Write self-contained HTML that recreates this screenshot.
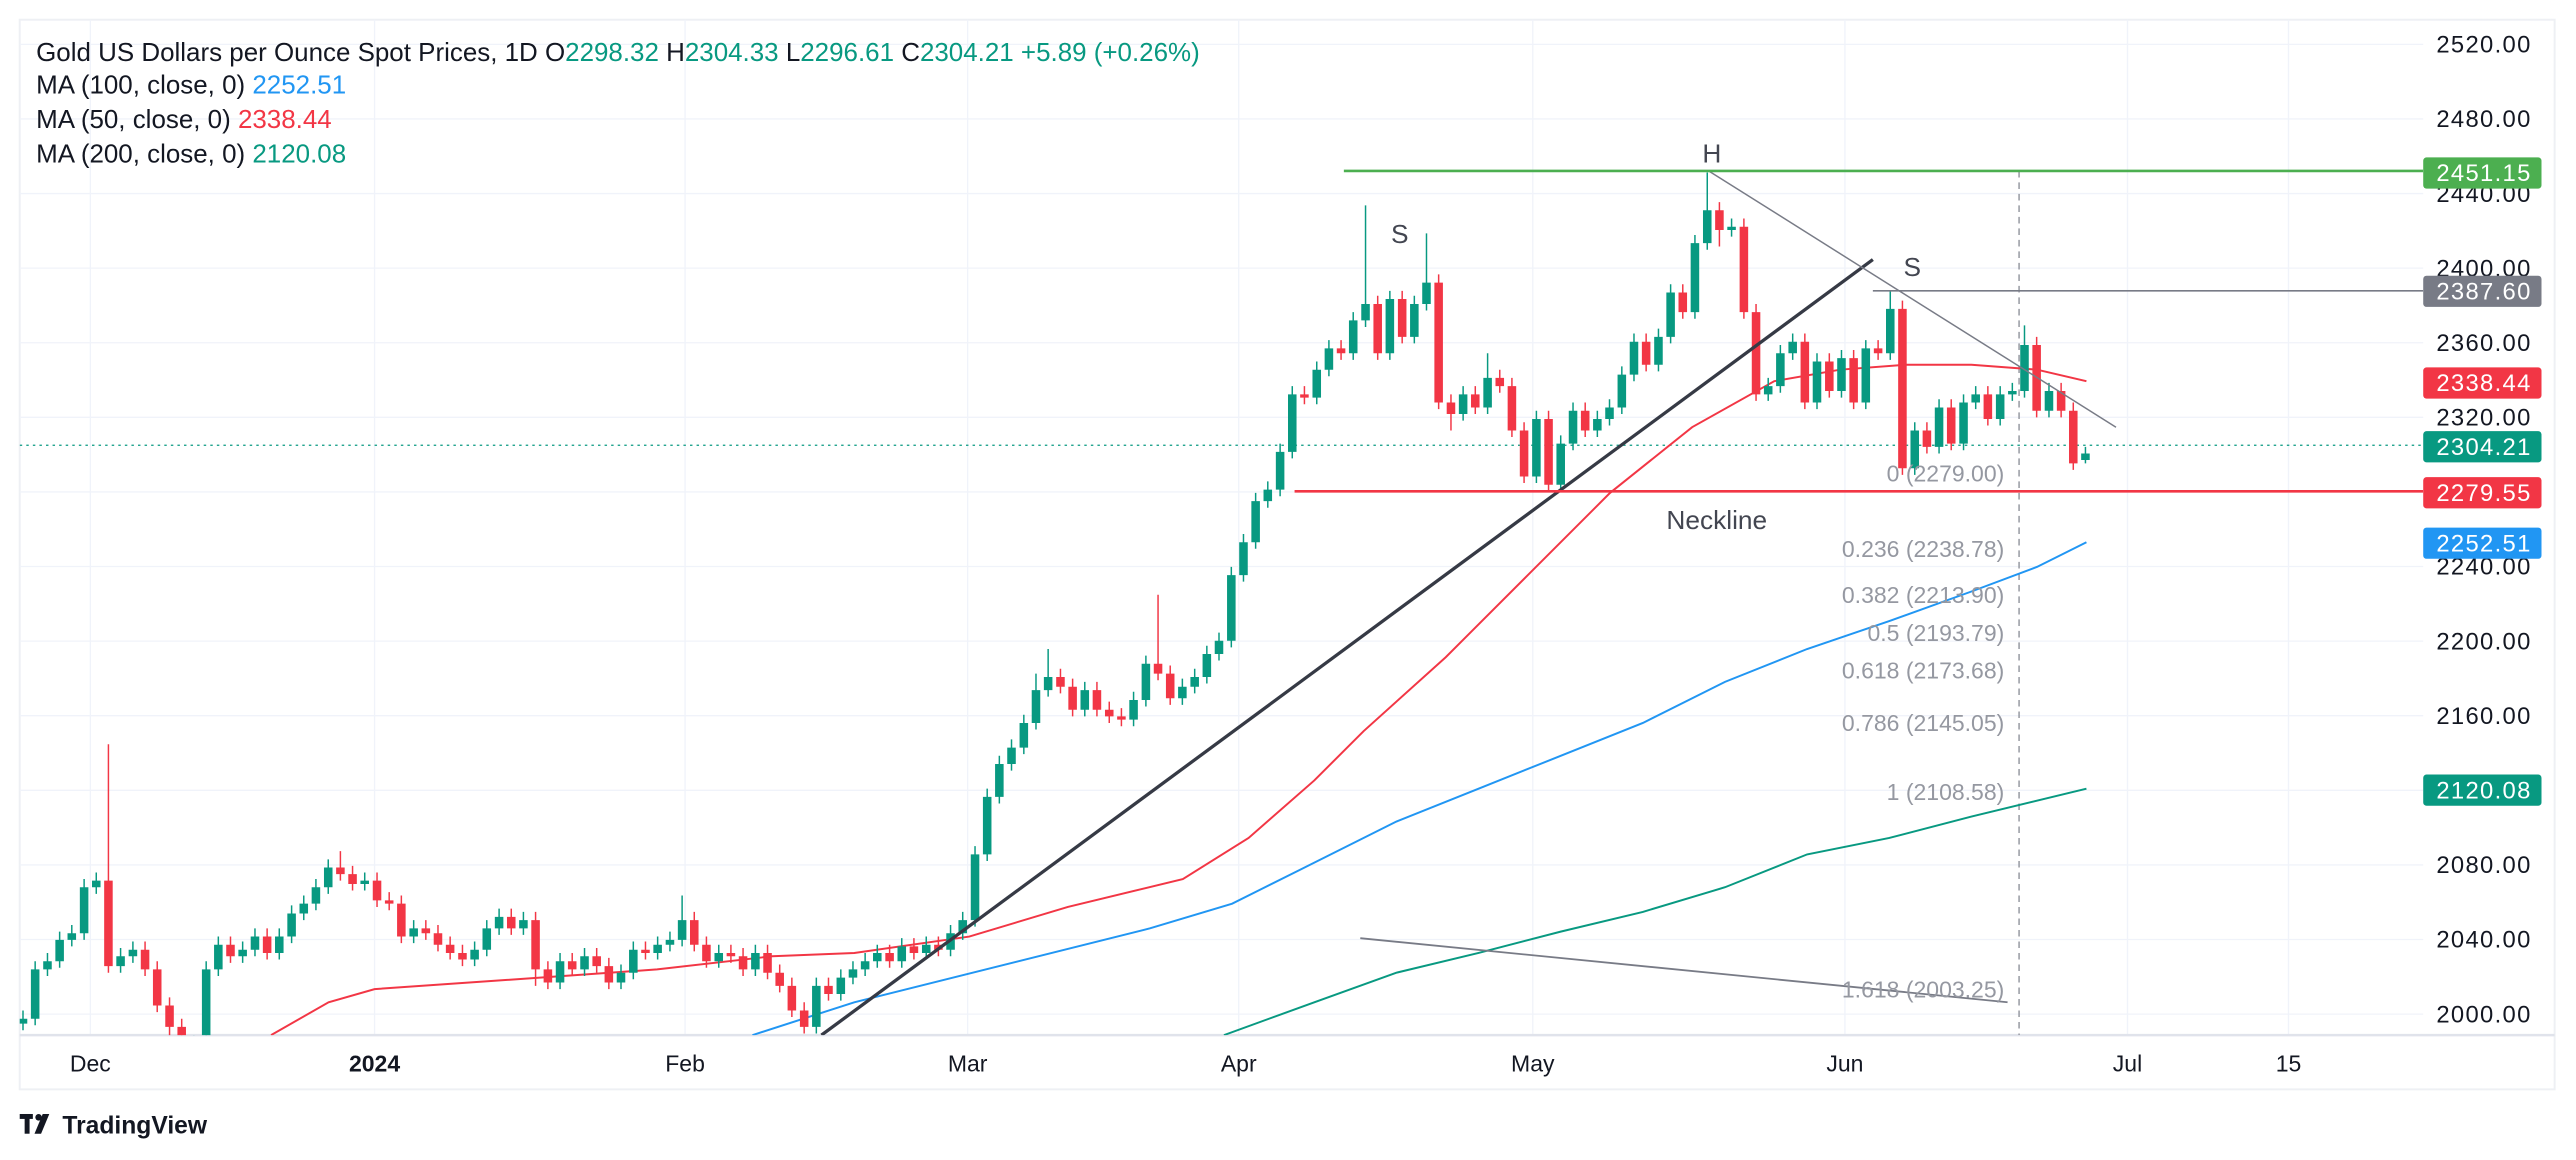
<!DOCTYPE html>
<html><head><meta charset="utf-8"><style>
html,body{margin:0;padding:0;background:#fff;}
svg{display:block;font-family:"Liberation Sans",sans-serif;}
</style></head><body>
<svg width="2576" height="1160" viewBox="0 0 1568 706" preserveAspectRatio="none" xmlns="http://www.w3.org/2000/svg">
<rect x="0" y="0" width="1568" height="706" fill="#fff"/>
<rect x="12" y="12" width="1543" height="651" fill="none" stroke="#eef0f4" stroke-width="1.2"/>
<g stroke="#f0f3fa" stroke-width="0.8">
<line x1="12" x2="1475" y1="27" y2="27"/><line x1="12" x2="1475" y1="72.4" y2="72.4"/><line x1="12" x2="1475" y1="117.8" y2="117.8"/><line x1="12" x2="1475" y1="163.2" y2="163.2"/><line x1="12" x2="1475" y1="208.6" y2="208.6"/><line x1="12" x2="1475" y1="254" y2="254"/><line x1="12" x2="1475" y1="299.4" y2="299.4"/><line x1="12" x2="1475" y1="344.8" y2="344.8"/><line x1="12" x2="1475" y1="390.2" y2="390.2"/><line x1="12" x2="1475" y1="435.6" y2="435.6"/><line x1="12" x2="1475" y1="481" y2="481"/><line x1="12" x2="1475" y1="526.4" y2="526.4"/><line x1="12" x2="1475" y1="571.8" y2="571.8"/><line x1="12" x2="1475" y1="617.2" y2="617.2"/>
<line x1="55" x2="55" y1="12" y2="630"/><line x1="228" x2="228" y1="12" y2="630"/><line x1="417" x2="417" y1="12" y2="630"/><line x1="589" x2="589" y1="12" y2="630"/><line x1="754" x2="754" y1="12" y2="630"/><line x1="933" x2="933" y1="12" y2="630"/><line x1="1123" x2="1123" y1="12" y2="630"/><line x1="1295" x2="1295" y1="12" y2="630"/><line x1="1393" x2="1393" y1="12" y2="630"/>
</g>
<line x1="12" y1="630" x2="1555" y2="630" stroke="#e0e3eb" stroke-width="1.5"/>
<defs><clipPath id="c"><rect x="12" y="12" width="1463" height="618"/></clipPath></defs>
<g clip-path="url(#c)">
  <line x1="12" y1="271" x2="1475" y2="271" stroke="#089981" stroke-width="0.8" stroke-dasharray="1.5,2.5"/>
  <line x1="1229" y1="104" x2="1229" y2="630" stroke="#9598a1" stroke-width="0.9" stroke-dasharray="4,3"/>
  <polyline fill="none" stroke="#089981" stroke-width="1.2" points="745,630 800,610 850,592 900,580 950,567 1000,555 1050,540 1100,520 1150,510 1200,497 1270,480"/>
  <polyline fill="none" stroke="#2196f3" stroke-width="1.2" points="458,630 520,610 600,590 700,565 750,550 790,530 850,500 900,480 950,460 1000,440 1050,415 1100,395 1150,378 1200,360 1240,345 1270,330"/>
  <polyline fill="none" stroke="#f23645" stroke-width="1.2" points="165,630 200,610 228,602 300,597 400,590 470,582 520,580 590,570 650,552 720,535 760,510 800,475 830,445 880,400 930,350 980,300 1030,260 1080,232 1120,225 1160,222 1200,222 1240,225 1270,232"/>
  <path fill="none" stroke="#089981" stroke-width="0.9" d="M14 615V627M21.4 585V624M28.9 580V594M36.3 567V589M43.7 563V576M51.2 535V572M58.6 531V544M73.4 577V592M80.9 573V586M118 630V644M125.5 585V639M132.9 570V594M147.7 573V586M155.2 565V582M170 565V584M177.5 551V574M184.9 545V560M192.3 535V554M199.8 523V544M222 531V542M251.8 560V574M288.9 573V588M296.3 560V582M303.8 553V569M318.6 555V569M340.9 580V602M355.8 577V594M378 587V602M385.5 573V596M400.3 570V584M407.8 567V579M415.2 545V576M437.5 575V589M459.8 575V594M496.9 595V629M511.8 590V609M519.2 585V599M526.6 580V594M534 575V589M548.9 571V589M563.8 570V584M578.6 563V582M586 555V572M593.5 515V564M600.9 480V524M608.3 460V489M615.7 450V469M623.2 435V459M630.6 410V444M638 395V424M660.3 415V436M690 421V442M697.5 399V430M719.7 413V429M727.2 407V422M734.6 393V416M742 385V402M749.5 345V394M756.9 325V354M764.3 300V334M771.7 293V309M779.2 270V302M786.6 235V279M801.5 220V246M808.9 207V229M823.7 190V219M831.2 125V199M846 177V219M860.9 180V209M868.3 142V189M890.6 235V256M905.5 215V252M935.2 250V294M950 265V299M957.5 245V274M972.3 250V266M979.7 243V259M987.2 223V252M994.6 203V232M1009.5 200V226M1016.9 173V209M1031.7 143V194M1039.2 105V152M1054 133V144M1076.3 230V244M1083.7 210V239M1091.2 203V219M1106 215V249M1120.9 213V242M1135.7 207V249M1150.6 177V219M1165.5 257V289M1180.3 243V276M1195.2 240V274M1202.6 235V249M1217.5 235V259M1224.9 233V244M1232.3 198V242M1247.2 233V254M1269.4 272V282"/>
  <path fill="none" stroke="#089981" stroke-width="5.2" d="M14 623V620M21.4 620V590M28.9 590V585M36.3 585V572M43.7 572V568M51.2 568V540M58.6 540V536M73.4 588V582M80.9 582V578M118 640V635M125.5 635V590M132.9 590V575M147.7 582V578M155.2 578V570M170 580V570M177.5 570V556M184.9 556V550M192.3 550V540M199.8 540V528M222 538V536M251.8 570V565M288.9 584V578M296.3 578V565M303.8 565V558M318.6 565V560M340.9 598V585M355.8 590V582M378 598V592M385.5 592V578M400.3 580V575M407.8 575V572M415.2 572V560M437.5 585V580M459.8 590V580M496.9 625V600M511.8 605V595M519.2 595V590M526.6 590V585M534 585V580M548.9 585V576M563.8 580V575M578.6 578V568M586 568V560M593.5 560V520M600.9 520V485M608.3 485V465M615.7 465V455M623.2 455V440M630.6 440V420M638 420V412M660.3 432V420M690 438V426M697.5 426V404M719.7 425V418M727.2 418V412M734.6 412V398M742 398V390M749.5 390V350M756.9 350V330M764.3 330V305M771.7 305V298M779.2 298V275M786.6 275V240M801.5 242V225M808.9 225V212M823.7 215V195M831.2 195V185M846 215V182M860.9 205V185M868.3 185V172M890.6 252V240M905.5 248V230M935.2 290V255M950 295V270M957.5 270V250M972.3 262V255M979.7 255V248M987.2 248V228M994.6 228V208M1009.5 222V205M1016.9 205V178M1031.7 190V148M1039.2 148V128M1054 140V138M1076.3 240V235M1083.7 235V215M1091.2 215V208M1106 245V220M1120.9 238V218M1135.7 245V212M1150.6 215V188M1165.5 285V262M1180.3 272V248M1195.2 270V245M1202.6 245V240M1217.5 255V240M1224.9 240V238M1232.3 238V210M1247.2 250V238M1269.4 280V276"/>
  <path fill="none" stroke="#f23645" stroke-width="0.9" d="M66 453V592M88.3 573V594M95.7 585V616M103.2 607V640M110.6 620V644M140.3 570V586M162.6 565V584M207.2 518V536M214.6 527V542M229.5 531V552M236.9 543V554M244.3 545V574M259.2 560V572M266.6 563V579M274 570V584M281.5 575V588M311.2 553V569M326 555V600M333.5 585V602M348.3 580V594M363.2 577V592M370.6 583V602M392.9 573V584M422.6 555V579M430 570V589M444.9 575V586M452.3 577V594M467.2 575V596M474.6 587V604M482 595V619M489.5 610V629M504.3 595V609M541.5 575V589M556.3 571V584M571.2 570V582M645.5 407V422M652.9 413V436M667.7 415V436M675.2 427V440M682.6 431V442M704.9 362V414M712.3 405V429M794 235V246M816.3 207V219M838.6 180V219M853.5 177V209M875.7 167V249M883.2 240V262M898 235V252M912.9 225V239M920.3 230V266M927.7 257V294M942.6 250V299M964.9 245V266M1002 203V226M1024.3 173V194M1046.6 123V150M1061.5 133V194M1068.9 185V244M1098.6 203V249M1113.5 215V242M1128.3 213V249M1143.2 207V219M1158 183V289M1172.9 257V276M1187.7 243V274M1210 235V259M1239.7 205V254M1254.6 233V254M1262 245V286"/>
  <path fill="none" stroke="#f23645" stroke-width="5.2" d="M66 536V588M88.3 578V590M95.7 590V612M103.2 612V625M110.6 625V640M140.3 575V582M162.6 570V580M207.2 528V532M214.6 532V538M229.5 536V548M236.9 548V550M244.3 550V570M259.2 565V568M266.6 568V575M274 575V580M281.5 580V584M311.2 558V565M326 560V590M333.5 590V598M348.3 585V590M363.2 582V588M370.6 588V598M392.9 578V580M422.6 560V575M430 575V585M444.9 580V582M452.3 582V590M467.2 580V592M474.6 592V600M482 600V615M489.5 615V625M504.3 600V605M541.5 580V585M556.3 576V580M571.2 575V578M645.5 412V418M652.9 418V432M667.7 420V432M675.2 432V436M682.6 436V438M704.9 404V410M712.3 410V425M794 240V242M816.3 212V215M838.6 185V215M853.5 182V205M875.7 172V245M883.2 245V252M898 240V248M912.9 230V235M920.3 235V262M927.7 262V290M942.6 255V295M964.9 250V262M1002 208V222M1024.3 178V190M1046.6 128V140M1061.5 138V190M1068.9 190V240M1098.6 208V245M1113.5 220V238M1128.3 218V245M1143.2 212V215M1158 188V285M1172.9 262V272M1187.7 248V270M1210 240V255M1239.7 210V250M1254.6 238V250M1262 250V282"/>
  <line x1="500" y1="630" x2="1140" y2="158" stroke="#363a45" stroke-width="2"/>
  <line x1="1040" y1="104" x2="1288" y2="260" stroke="#787b86" stroke-width="0.9"/>
  <line x1="828" y1="571" x2="1222" y2="610" stroke="#787b86" stroke-width="1.1"/>
  <line x1="818" y1="104" x2="1475" y2="104" stroke="#4caf50" stroke-width="1.6"/>
  <line x1="1140" y1="177" x2="1475" y2="177" stroke="#787b86" stroke-width="1"/>
  <line x1="788" y1="299" x2="1475" y2="299" stroke="#f23645" stroke-width="1.6"/>
</g>
<g fill="#9598a1" font-size="14" text-anchor="end">
<text x="1220" y="293">0 (2279.00)</text>
<text x="1220" y="339">0.236 (2238.78)</text>
<text x="1220" y="367">0.382 (2213.90)</text>
<text x="1220" y="390">0.5 (2193.79)</text>
<text x="1220" y="413">0.618 (2173.68)</text>
<text x="1220" y="445">0.786 (2145.05)</text>
<text x="1220" y="487">1 (2108.58)</text>
<text x="1220" y="607">1.618 (2003.25)</text>
</g>
<g fill="#434651" font-size="16" text-anchor="middle">
<text x="1042" y="99">H</text>
<text x="852" y="148">S</text>
<text x="1164" y="168">S</text>
<text x="1045" y="322">Neckline</text>
</g>
<g font-size="14.5" fill="#131722" letter-spacing="0.8">
<text x="1483" y="32">2520.00</text><text x="1483" y="77.4">2480.00</text><text x="1483" y="122.8">2440.00</text><text x="1483" y="168.2">2400.00</text><text x="1483" y="213.6">2360.00</text><text x="1483" y="259">2320.00</text><text x="1483" y="304.4">2280.00</text><text x="1483" y="349.8">2240.00</text><text x="1483" y="395.2">2200.00</text><text x="1483" y="440.6">2160.00</text><text x="1483" y="486">2120.00</text><text x="1483" y="531.4">2080.00</text><text x="1483" y="576.8">2040.00</text><text x="1483" y="622.2">2000.00</text>
<rect x="1475" y="95.8" width="72" height="19" rx="2" fill="#4caf50"/><text x="1483" y="110.3" fill="#fff">2451.15</text>
<rect x="1475" y="167.8" width="72" height="19" rx="2" fill="#787b86"/><text x="1483" y="182.3" fill="#fff">2387.60</text>
<rect x="1475" y="223.6" width="72" height="19" rx="2" fill="#f23645"/><text x="1483" y="238.1" fill="#fff">2338.44</text>
<rect x="1475" y="262.4" width="72" height="19" rx="2" fill="#089981"/><text x="1483" y="276.9" fill="#fff">2304.21</text>
<rect x="1475" y="290.4" width="72" height="19" rx="2" fill="#f23645"/><text x="1483" y="304.9" fill="#fff">2279.55</text>
<rect x="1475" y="321.1" width="72" height="19" rx="2" fill="#2196f3"/><text x="1483" y="335.6" fill="#fff">2252.51</text>
<rect x="1475" y="471.4" width="72" height="19" rx="2" fill="#089981"/><text x="1483" y="485.9" fill="#fff">2120.08</text>
</g>
<g font-size="15.8" fill="#131722">
<text x="22" y="37">Gold US Dollars per Ounce Spot Prices, 1D  O<tspan fill="#089981">2298.32</tspan>  H<tspan fill="#089981">2304.33</tspan>  L<tspan fill="#089981">2296.61</tspan>  C<tspan fill="#089981">2304.21</tspan>  <tspan fill="#089981">+5.89 (+0.26%)</tspan></text>
<text x="22" y="57">MA (100, close, 0)  <tspan fill="#2196f3">2252.51</tspan></text>
<text x="22" y="78">MA (50, close, 0)  <tspan fill="#f23645">2338.44</tspan></text>
<text x="22" y="99">MA (200, close, 0)  <tspan fill="#089981">2120.08</tspan></text>
</g>
<g fill="#131722" font-size="14" text-anchor="middle">
<text x="55" y="652">Dec</text><text x="228" y="652" font-weight="bold">2024</text>
<text x="417" y="652">Feb</text><text x="589" y="652">Mar</text><text x="754" y="652">Apr</text>
<text x="933" y="652">May</text><text x="1123" y="652">Jun</text><text x="1295" y="652">Jul</text><text x="1393" y="652">15</text>
</g>
<g fill="#131722">
<rect x="12" y="678" width="8" height="3"/><rect x="15" y="678" width="3" height="12"/>
<circle cx="23.5" cy="680" r="2"/><polygon points="26,678 30,678 25,690 21,690"/>
<text x="38" y="690" font-size="15" font-weight="bold">TradingView</text>
</g>
</svg>
</body></html>
